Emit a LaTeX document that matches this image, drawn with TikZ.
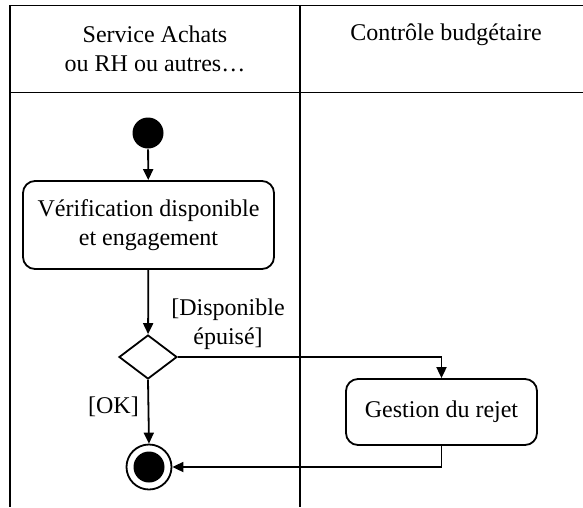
\documentclass[tikz,border=0pt]{standalone}
\usepackage{fontspec}
\setmainfont{Liberation Serif}
\usetikzlibrary{shapes.geometric,arrows.meta}
\begin{document}
\begin{tikzpicture}[x=1pt,y=-1pt,
  line width=1.8pt,
  every node/.style={font=\fontsize{24}{28.5}\selectfont},
  arr/.style={-{Triangle[length=11pt,width=10pt]}},
  lanetext/.style={align=center,inner sep=0pt},
  action/.style={draw,rounded corners=12pt,align=center,inner sep=0pt},
  startnode/.style={circle,fill=black,minimum size=31pt,inner sep=0pt},
  decision/.style={draw,diamond,minimum width=58pt,minimum height=44pt,inner sep=0pt},
  endnode/.style={draw,circle,minimum size=45pt,inner sep=0pt},
  guard/.style={align=center,inner sep=0pt}]
\useasboundingbox (0,0) rectangle (583,507);
% swimlanes
\coordinate (tl) at (10,5.5);
\coordinate (tr) at (583,5.5);
\coordinate (hl) at (10,92.5);
\coordinate (hr) at (583,92.5);
\coordinate (bl) at (10,507);
\coordinate (mt) at (300,5.5);
\coordinate (mb) at (300,507);
\draw (tr) -- (tl) -- (bl);
\draw (hl) -- (hr);
\draw (mt) -- (mb);
\node[lanetext] (lane1) at (155,49) {Service Achats\\ou RH ou autres…};
\node[lanetext,anchor=base] (lane2) at (446,40) {Contrôle budgétaire};
% nodes
\node[startnode] (start) at (148,133) {};
\node[action,minimum width=251pt,minimum height=88pt] (verif) at (148.5,225) {Vérification disponible\\et engagement};
\node[decision] (dec) at (148,357) {};
\node[action,minimum width=191pt,minimum height=66pt] (rejet) at (441.5,412) {Gestion du rejet};
\node[endnode] (end) at (149,467) {};
\fill (end.center) circle (15.5pt);
% connectors
\draw[arr] (start) -- (verif);
\draw[arr] (verif) -- (dec);
\draw[arr] (dec.east) -| (rejet.north);
\draw[arr] (dec.south) -- (end.north);
\draw[arr] (rejet.south) |- (end.east);
\node[guard] (g1) at (228,324) {[Disponible\\épuisé]};
\node[guard] (g2) at (113.5,407) {[OK]};
\end{tikzpicture}
\end{document}
